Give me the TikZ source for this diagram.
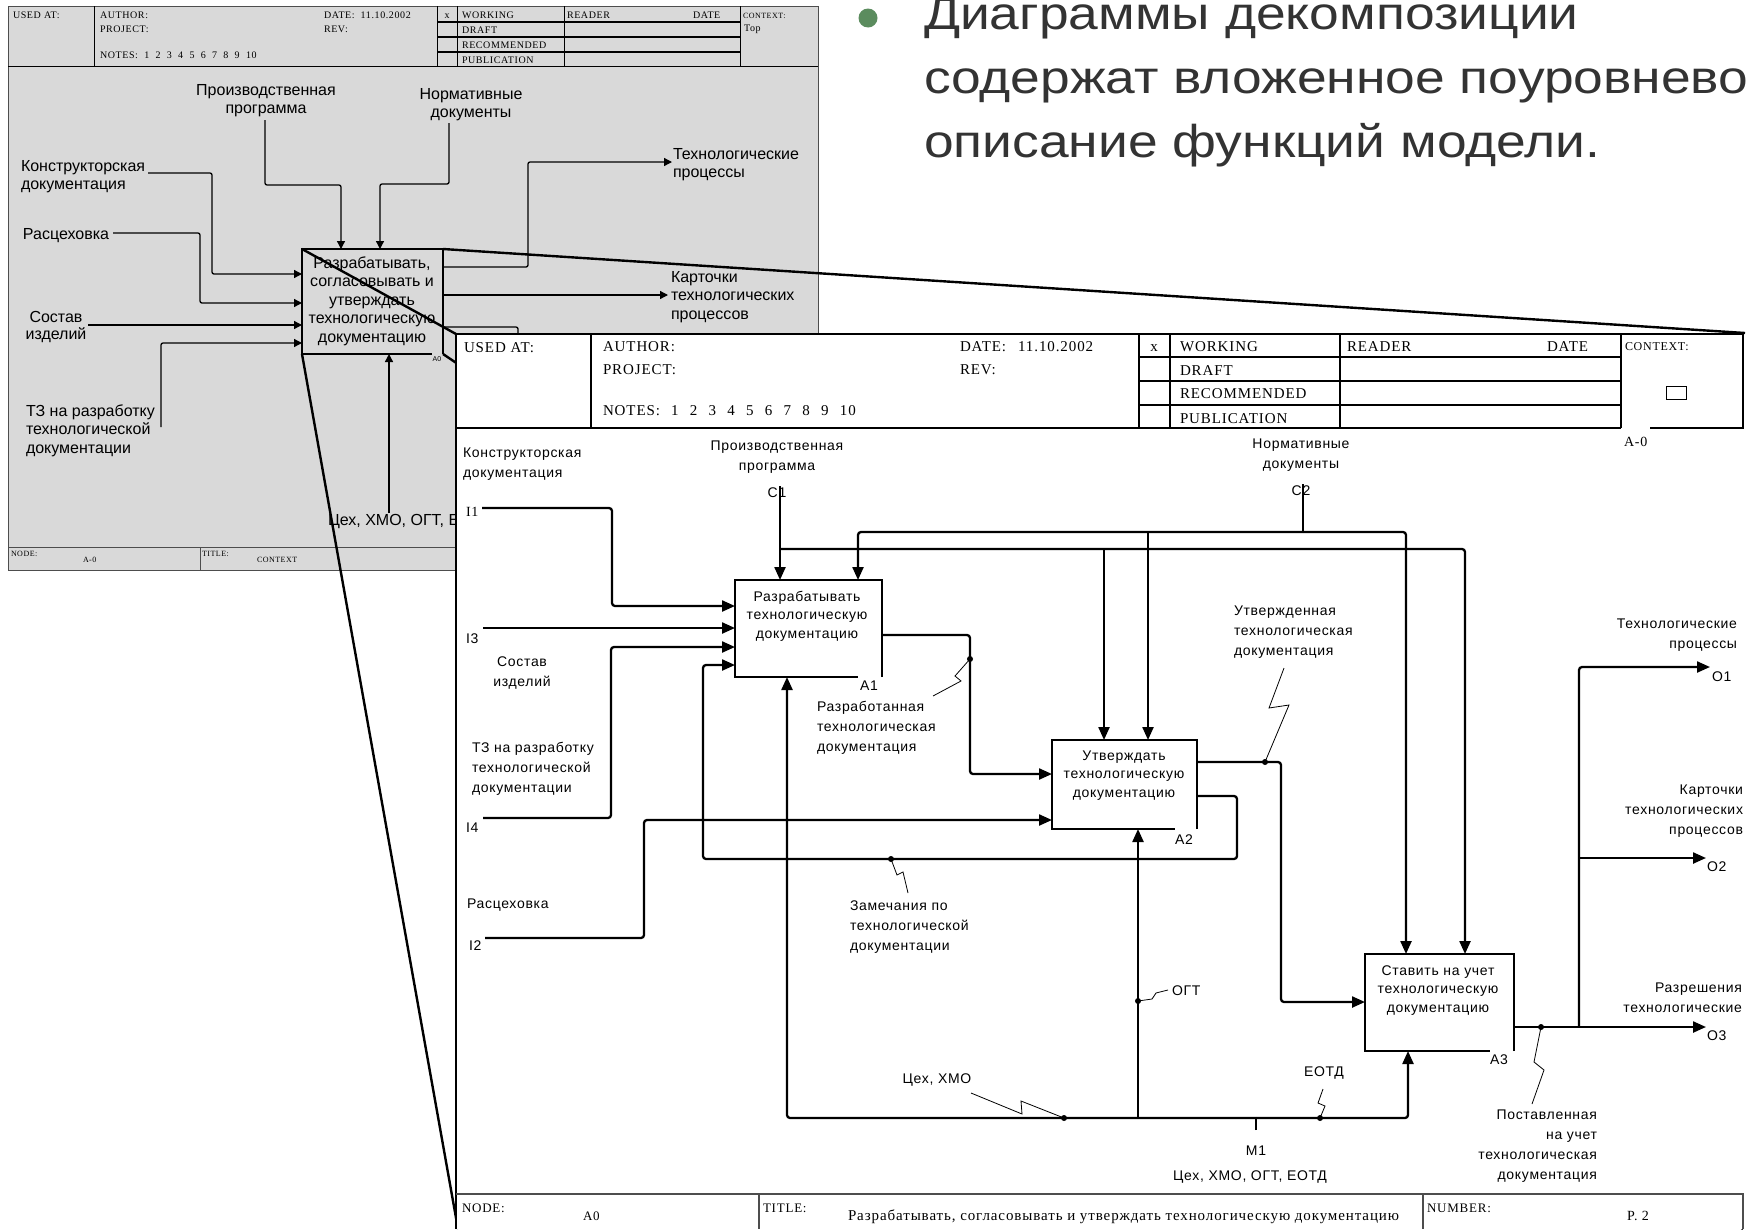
\documentclass[tikz,border=0pt]{standalone}
\usepackage{fontspec}
\setmainfont{Liberation Sans}
\newfontfamily\formfont[LetterSpace=6]{Liberation Serif}
\newfontfamily\labfont[LetterSpace=5]{Liberation Sans}
\usetikzlibrary{arrows.meta}
\definecolor{sheetgray}{HTML}{D9D9D9}
\definecolor{slideink}{HTML}{333333}
\definecolor{bulletgreen}{HTML}{5B8C5E}
\definecolor{rulegray}{HTML}{4D4D4D}
\newcommand\nsp{\hspace{0.6em}}
% NOTES row with a given gap between the numbers
\newcommand\notesrow[1]{NOTES:\hspace{#1}1\hspace{#1}2\hspace{#1}3\hspace{#1}4\hspace{#1}5\hspace{#1}6\hspace{#1}7\hspace{#1}8\hspace{#1}9\hspace{#1}10}

\begin{document}
% multi-line nodes are placed by the baseline of their last line
\begin{tikzpicture}[x=1pt,y=-1pt,
  every node/.style={inner sep=0pt,outer sep=0pt},
  gline/.style={line width=1.3pt,rounded corners=2pt},
  garrow/.style={gline,-{Triangle[length=8pt,width=8pt]}},
  fline/.style={line width=2.3pt,rounded corners=3pt},
  farrow/.style={fline,-{Triangle[length=13pt,width=11pt]}},
  zoomline/.style={line width=2.4pt},
  squig/.style={line width=0.8pt},
  junction/.style={circle,fill=black,minimum size=6pt},
  gform/.style={font=\formfont\fontsize{10}{12}\selectfont,anchor=base west},
  fform/.style={font=\formfont\fontsize{15}{18}\selectfont,anchor=base west},
  glab/.style={font=\fontsize{16}{18.5}\selectfont},
  flab/.style={font=\labfont\fontsize{14}{20}\selectfont},
  fboxtext/.style={font=\labfont\fontsize{14}{18.5}\selectfont,align=center,anchor=base},
  headrule/.style={line width=1.6pt},
]
\useasboundingbox (0,0) rectangle (1750,1229);
\fill[white] (0,0) rectangle (1750,1229);

% ---------- slide text ----------
\node[circle,fill=bulletgreen,minimum size=19pt] (bullet) at (868,18) {};
\node[anchor=base west,align=left,text=slideink,font=\fontsize{46}{64}\selectfont] (slidetext) at (924,157)
  {\scalebox{1.16}[1]{Диаграммы декомпозиции}\\
   \scalebox{1.16}[1]{содержат вложенное поуровневое}\\
   \scalebox{1.16}[1]{описание функций модели.}};

% ---------- context sheet A-0 ----------
\fill[sheetgray] (8,6) rectangle (818,570);
\draw[rulegray,line width=1pt] (8,6) rectangle (818,570);
\draw[line width=0.9pt] (8,66) -- (818,66)
  (94,6) -- (94,66) (437,6) -- (437,66) (457,6) -- (457,66)
  (564,6) -- (564,66) (740,6) -- (740,66);
\draw[line width=1.2pt] (437,22) -- (740,22) (437,37) -- (740,37) (437,52) -- (740,52);
\draw[rulegray,line width=0.9pt] (8,547) -- (818,547) (200,547) -- (200,570);

\node[gform] (gUsed) at (13,18) {USED AT:};
\node[gform] (gAuth) at (100,18) {AUTHOR:};
\node[gform] (gProj) at (100,32) {PROJECT:};
\node[gform] (gNotes) at (100,58) {\notesrow{0.63em}};
\node[gform] (gDate) at (324,18) {DATE:\nsp 11.10.2002};
\node[gform] (gRev) at (324,32) {REV:};
\node[gform,anchor=base] (gX) at (447,18) {x};
\node[gform] (gWork) at (462,18) {WORKING};
\node[gform] (gDraft) at (462,33) {DRAFT};
\node[gform] (gRec) at (462,48) {RECOMMENDED};
\node[gform] (gPub) at (462,63) {PUBLICATION};
\node[gform] (gRead) at (567,18) {READER};
\node[gform] (gDate2) at (693,18) {DATE};
\node[gform,font=\formfont\fontsize{8}{10}\selectfont] (gCtx) at (743,18) {CONTEXT:};
\node[gform] (gTop) at (744,31) {Top};
\node[gform,font=\formfont\fontsize{8}{10}\selectfont] (gNode) at (11,556) {NODE:};
\node[gform,font=\formfont\fontsize{8}{10}\selectfont] (gNodeV) at (83,562) {A-0};
\node[gform,font=\formfont\fontsize{8}{10}\selectfont] (gTitle) at (202,556) {TITLE:};
\node[gform,font=\formfont\fontsize{8}{10}\selectfont] (gTitleV) at (257,562) {CONTEXT};

% context box
\node[minimum width=141pt,minimum height=105pt] (A0) at (372.5,301.5) {};
\draw[line width=1.8pt] (A0.south east) -- (A0.north east) -- (A0.north west) -- (A0.south west) -- ++(130,0);
\node[glab,align=center,anchor=base] (A0t) at (372,342)
  {Разрабатывать,\\согласовывать и\\утверждать\\технологическую\\документацию};
\node[font=\fontsize{7}{8}\selectfont,anchor=base] (A0n) at (437,361) {A0};

% context labels
\node[glab,align=center,anchor=base] (gPP) at (266,113.5) {Производственная\\программа};
\node[glab,align=center,anchor=base] (gND) at (471,117.5) {Нормативные\\документы};
\node[glab,align=left,anchor=base west] (gKD) at (21,189.5) {Конструкторская\\документация};
\node[glab,align=left,anchor=base west] (gTP) at (673,177.5) {Технологические\\процессы};
\node[glab,anchor=base west] (gRC) at (23,239) {Расцеховка};
\node[glab,align=left,anchor=base west] (gKT) at (671,319) {Карточки\\технологических\\процессов};
\node[glab,align=center,anchor=base,font=\fontsize{16}{17}\selectfont] (gSI) at (56,339) {Состав\\изделий};
\node[glab,align=left,anchor=base west] (gTZ) at (26,453) {ТЗ на разработку\\технологической\\документации};
\node[glab,anchor=base west] (gMech) at (328,525) {Цех, ХМО, ОГТ, ЕОТД};

% context arrows
\coordinate (gPe) at (265,120);
\coordinate (gNe) at (449,123);
\coordinate (gKe) at (148,173);
\coordinate (gRe) at (113,233);
\coordinate (gSe) at (88,325);
\coordinate (gTe) at (161,427);
\coordinate (gO1) at (672,162);
\coordinate (gO2) at (668,295);
\coordinate (gO3) at (518,345);
\coordinate (gMe) at (389,513);
\draw[garrow] (gPe) -- (265,185) -- (341,185) -- (341,0 |- A0.north);
\draw[garrow] (gNe) -- (449,184) -- (380,184) -- (380,0 |- A0.north);
\draw[garrow] (gKe) -- (212,173) -- (212,274) -- (A0.west |- 0,274);
\draw[garrow] (gRe) -- (200,233) -- (200,303) -- (A0.west |- 0,303);
\draw[garrow] (gSe) -- (A0.west |- gSe);
\draw[garrow] (gTe) -- (161,343) -- (A0.west |- 0,343);
\draw[garrow] (A0.east |- 0,267) -- (528,267) -- (528,162) -- (gO1);
\draw[garrow] (A0.east |- gO2) -- (gO2);
\draw[gline] (A0.east |- 0,327) -- (518,327) -- (gO3);
\draw[garrow] (gMe) -- (389,0 |- A0.south);

% ---------- zoom lines ----------
\coordinate (sheetNW) at (456,334);
\coordinate (sheetNE) at (1745,333);
\coordinate (sheetSW) at (458,1229);
\coordinate (sheetSE) at (1743,1229);
\draw[zoomline] (A0.north west) -- (sheetNW);
\draw[zoomline] (A0.north east) -- (sheetNE);
\draw[zoomline] (A0.south west) -- (sheetSW);
\draw[zoomline] (A0.south east) -- (sheetSE);

% ---------- decomposition sheet A0 ----------
\fill[white] (457,335) rectangle (1750,1229);
\draw[line width=2.4pt] (456,333) -- (456,1229);
\draw[headrule] (456,334) -- (1743,334) -- (1743,428) -- (1650,428);
\draw[headrule] (456,428) -- (1621,428)
  (591,334) -- (591,428) (1139,334) -- (1139,428) (1170,334) -- (1170,428)
  (1340,334) -- (1340,428) (1621,334) -- (1621,428);
\draw[line width=2pt] (1139,357) -- (1621,357) (1139,381) -- (1621,381) (1139,405) -- (1621,405);
\draw[line width=0.8pt] (1666,386) rectangle (1686,399);
\draw[rulegray,line width=1.2pt] (456,1194) -- (1743,1194) -- (1743,1229)
  (759,1194) -- (759,1229) (1423,1194) -- (1423,1229);

\node[fform] (fUsed) at (464,352) {USED AT:};
\node[fform] (fAuth) at (603,351) {AUTHOR:};
\node[fform] (fProj) at (603,374) {PROJECT:};
\node[fform] (fNotes) at (603,415) {\notesrow{0.75em}};
\node[fform] (fDate) at (960,351) {DATE:\hspace{0.8em}11.10.2002};
\node[fform] (fRev) at (960,374) {REV:};
\node[fform,anchor=base] (fX) at (1154,351) {x};
\node[fform] (fWork) at (1180,351) {WORKING};
\node[fform] (fDraft) at (1180,375) {DRAFT};
\node[fform] (fRec) at (1180,398) {RECOMMENDED};
\node[fform] (fPub) at (1180,423) {PUBLICATION};
\node[fform] (fRead) at (1347,351) {READER};
\node[fform] (fDate2) at (1547,351) {DATE};
\node[fform,font=\formfont\fontsize{12}{14}\selectfont] (fCtx) at (1625,350) {CONTEXT:};
\node[fform,font=\formfont\fontsize{14}{16}\selectfont] (fCtxV) at (1624,446) {A-0};
\node[fform,font=\formfont\fontsize{13}{15}\selectfont] (fNode) at (462,1212) {NODE:};
\node[fform,font=\formfont\fontsize{13}{15}\selectfont] (fNodeV) at (583,1220) {A0};
\node[fform,font=\formfont\fontsize{13}{15}\selectfont] (fTitle) at (763,1212) {TITLE:};
\node[fform,font=\formfont\fontsize{15}{17}\selectfont] (fTitleV) at (848,1220)
  {Разрабатывать, согласовывать и утверждать технологическую документацию};
\node[fform,font=\formfont\fontsize{13}{15}\selectfont] (fNum) at (1427,1212) {NUMBER:};
\node[fform,font=\formfont\fontsize{14}{16}\selectfont] (fNumV) at (1627,1220) {P.~2};

% activity boxes
\node[minimum width=147pt,minimum height=97pt] (A1) at (808.5,628.5) {};
\node[minimum width=145pt,minimum height=89pt] (A2) at (1124.5,784.5) {};
\node[minimum width=149pt,minimum height=97pt] (A3) at (1439.5,1002.5) {};
\draw[line width=2.8pt] (A1.south east) -- (A1.north east) -- (A1.north west) -- (A1.south west) -- ++(123,0);
\draw[line width=2.8pt] (A2.south east) -- (A2.north east) -- (A2.north west) -- (A2.south west) -- ++(123,0);
\draw[line width=2.8pt] (A3.south east) -- (A3.north east) -- (A3.north west) -- (A3.south west) -- ++(125,0);
\node[fboxtext] (A1t) at (807,638) {Разрабатывать\\технологическую\\документацию};
\node[fboxtext] (A2t) at (1124,797) {Утверждать\\технологическую\\документацию};
\node[fboxtext] (A3t) at (1438,1012) {Ставить на учет\\технологическую\\документацию};
\node[flab,anchor=base] (A1n) at (869,690) {A1};
\node[flab,anchor=base] (A2n) at (1184,844) {A2};
\node[flab,anchor=base] (A3n) at (1499,1064) {A3};

% sheet labels
\node[flab,anchor=base west,align=left] (lKD) at (463,477) {Конструкторская\\документация};
\node[flab,anchor=base,align=center] (lPP) at (777,470) {Производственная\\программа};
\node[flab,anchor=base,align=center] (lND) at (1301,468) {Нормативные\\документы};
\node[flab,anchor=base,align=center] (lSI) at (522,686) {Состав\\изделий};
\node[flab,anchor=base west,align=left] (lTZ) at (472,792) {ТЗ на разработку\\технологической\\документации};
\node[flab,anchor=base west] (lRC) at (467,908) {Расцеховка};
\node[flab,anchor=base west,align=left] (lZM) at (850,950) {Замечания по\\технологической\\документации};
\node[flab,anchor=base west,align=left] (lRT) at (817,751) {Разработанная\\технологическая\\документация};
\node[flab,anchor=base west,align=left] (lUT) at (1234,655) {Утвержденная\\технологическая\\документация};
\node[flab,anchor=base east,align=right] (lTP) at (1737,648) {Технологические\\процессы};
\node[flab,anchor=base east,align=right] (lKT) at (1743,834) {Карточки\\технологических\\процессов};
\node[flab,anchor=base east,align=right] (lRZ) at (1742,1012) {Разрешения\\технологические};
\node[flab,anchor=base east,align=right] (lPU) at (1597,1179) {Поставленная\\на учет\\технологическая\\документация};
\node[flab,anchor=base] (lCX) at (937,1083) {Цех, ХМО};
\node[flab,anchor=base west] (lOG) at (1172,995) {ОГТ};
\node[flab,anchor=base] (lEO) at (1324,1076) {ЕОТД};
\node[flab,anchor=base] (lM1) at (1256,1155) {M1};
\node[flab,anchor=base] (lMA) at (1250,1180) {Цех, ХМО, ОГТ, ЕОТД};
\node[flab,anchor=base west] (lO1) at (1712,681) {O1};
\node[flab,anchor=base west] (lO2) at (1707,871) {O2};
\node[flab,anchor=base west] (lO3) at (1707,1040) {O3};
\node[fform,font=\formfont\fontsize{14}{16}\selectfont] (lI1) at (466,516) {I1};
\node[flab,anchor=base west] (lI3) at (466,643) {I3};
\node[flab,anchor=base west] (lI4) at (466,832) {I4};
\node[flab,anchor=base west] (lI2) at (469,950) {I2};
\node[flab,anchor=base] (lC1) at (777,497) {C1};
\node[flab,anchor=base] (lC2) at (1301,495) {C2};

% free ends of the boundary arrows
\coordinate (i1) at (482,508);
\coordinate (i3) at (483,628);
\coordinate (i4) at (483,818);
\coordinate (i2) at (485,938);
\coordinate (c1) at (780,486);
\coordinate (c2) at (1303,484);
\coordinate (m1) at (1256,1130);
\coordinate (o1) at (1710,667);
\coordinate (o2) at (1706,858);
\coordinate (o3) at (1706,1027);

% inputs
\draw[farrow] (i1) -- (612,508) -- (612,606) -- (A1.west |- 0,606);
\draw[farrow] (i3) -- (A1.west |- i3);
\draw[farrow] (i4) -- (611,818) -- (611,647) -- (A1.west |- 0,647);
\draw[farrow] (i2) -- (644,938) -- (644,820) -- (A2.west |- 0,820);
\draw[farrow] (A2.east |- 0,796) -- (1237,796) -- (1237,859) -- (703,859) -- (703,665) -- (A1.west |- 0,665);
\draw[farrow] (A1.east |- 0,635) -- (970,635) -- (970,774) -- (A2.west |- 0,774);
\draw[farrow] (A2.east |- 0,762) -- (1281,762) -- (1281,1002) -- (A3.west |- 0,1002);

% controls
\draw[farrow] (c1) -- (780,0 |- A1.north);
\draw[farrow] (780,549) -- (1465,549) -- (1465,0 |- A3.north);
\draw[farrow] (1104,549) -- (1104,0 |- A2.north);
\draw[fline] (c2) -- (1303,532);
\draw[farrow] (1303,532) -- (858,532) -- (858,0 |- A1.north);
\draw[farrow] (1303,532) -- (1406,532) -- (1406,0 |- A3.north);
\draw[farrow] (1148,532) -- (1148,0 |- A2.north);

% mechanisms
\draw[fline] (m1) -- (1256,1118);
\draw[farrow] (1256,1118) -- (787,1118) -- (787,0 |- A1.south);
\draw[farrow] (1256,1118) -- (1408,1118) -- (1408,0 |- A3.south);
\draw[farrow] (1138,1118) -- (1138,0 |- A2.south);

% outputs
\draw[farrow] (A3.east |- o3) -- (o3);
\draw[farrow] (1579,1027) -- (1579,667) -- (o1);
\draw[farrow] (1579,858) -- (o2);

% squiggles and junction dots
\node[junction] (jZM) at (891,859) {};
\node[junction] (jRT) at (970,659) {};
\node[junction] (jUT) at (1265,762) {};
\node[junction] (jCX) at (1064,1118) {};
\node[junction] (jOG) at (1138,1001) {};
\node[junction] (jEO) at (1320,1118) {};
\node[junction] (jPU) at (1541,1027) {};
\draw[squig] (jZM.center) -- (897,875) -- (903,872) -- (908,893);
\draw[squig] (jRT.center) -- (955,676) -- (961,681) -- (933,696);
\draw[squig] (jUT.center) -- (1289,705) -- (1269,708) -- (1284,668);
\draw[squig] (jCX.center) -- (1021,1101) -- (1022,1114) -- (971,1093);
\draw[squig] (jOG.center) -- (1152,999) -- (1156,993) -- (1168,990);
\draw[squig] (jEO.center) -- (1325,1106) -- (1318,1103) -- (1323,1089);
\draw[squig] (jPU.center) -- (1534,1062) -- (1544,1070) -- (1532,1104);
\end{tikzpicture}
\end{document}
